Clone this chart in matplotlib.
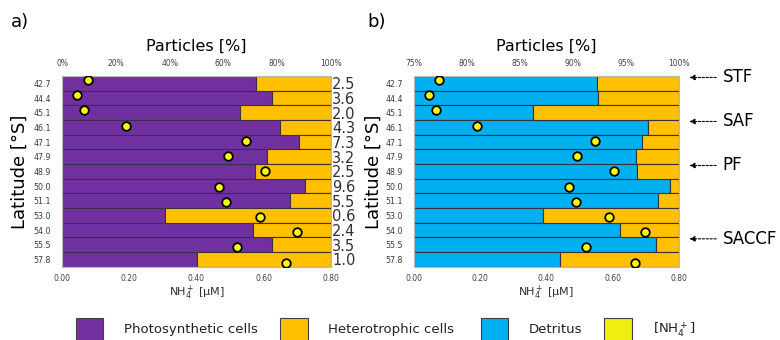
import matplotlib
matplotlib.use("Agg")
import matplotlib.pyplot as plt
from matplotlib.patches import Rectangle
import numpy as np

plt.rcParams['font.family'] = ['DejaVu Sans']

latitudes = ["42.7", "44.4", "45.1", "46.1", "47.1", "47.9", "48.9",
             "50.0", "51.1", "53.0", "54.0", "55.5", "57.8"]
photosynthetic_pct = [72.2, 78.2, 66.1, 81.2, 88.1, 76.3, 71.8, 90.5, 84.8, 38.1, 71.0, 78.0, 50.1]
detritus_pct = [92.25, 92.4, 86.2, 97.1, 96.5, 96.0, 96.1, 99.2, 98.0, 87.2, 94.5, 97.9, 88.8]
nh4_uM = [0.076, 0.044, 0.065, 0.190, 0.547, 0.494, 0.605, 0.467, 0.489, 0.589, 0.699, 0.521, 0.667]
right_labels = ["2.5", "3.6", "2.0", "4.3", "7.3", "3.2", "2.5", "9.6", "5.5", "0.6", "2.4", "3.5", "1.0"]
fronts = {"STF": "42.7", "SAF": "46.1", "PF": "48.9", "SACCF": "55.5"}

top_ticks_a = [0, 20, 40, 60, 80, 100]
top_ticks_b = [75, 80, 85, 90, 95, 100]
nh4_ticks = [0.0, 0.2, 0.4, 0.6, 0.8]

PURPLE = "#7030A0"
ORANGE = "#FFC000"
BLUE = "#00B0F0"
YELLOW = "#FFFF00"
EDGE = "#3a3040"

W, H = 780, 340
fig = plt.figure(figsize=(7.8, 3.4), dpi=100)

def rect(x0, x1, ytop, ybot):
    return [x0 / W, 1 - ybot / H, (x1 - x0) / W, (ybot - ytop) / H]

ya = np.arange(len(latitudes))

def make_panel(r, xlim, ticks, first_pct, first_color, tick_fmt, ylab_x):
    ax = fig.add_axes(r)
    lo = xlim[0]
    ax.barh(ya, [v - lo for v in first_pct], left=lo, height=1.0, color=first_color,
            edgecolor=EDGE, linewidth=0.8, zorder=2)
    ax.barh(ya, [100 - v for v in first_pct], left=first_pct, height=1.0, color=ORANGE,
            edgecolor=EDGE, linewidth=0.8, zorder=2)
    ax.set_xlim(*xlim)
    ax.set_ylim(len(latitudes) - 0.5, -0.5)
    ax.xaxis.tick_top()
    ax.set_xticks(ticks)
    ax.set_xticklabels([tick_fmt(t) for t in ticks], fontsize=5.5, color="#404040")
    ax.tick_params(axis='x', length=0, pad=6)
    ax.set_yticks(ya)
    ax.set_yticklabels(latitudes, fontsize=5.7, color="#383838")
    ax.tick_params(axis='y', length=0, pad=8)
    for s in ax.spines.values():
        s.set_color("#bbbbbb")
        s.set_linewidth(0.8)
    ax.set_xlabel("Particles [%]", fontsize=11.5, labelpad=6)
    ax.xaxis.set_label_position('top')
    ax.set_ylabel("Latitude [°S]", fontsize=13)
    ax.yaxis.set_label_coords(ylab_x, 0.5)

    # NH4 dots on overlaid axes
    ad = fig.add_axes(r, facecolor='none')
    ad.scatter(nh4_uM, ya, s=38, color=YELLOW, edgecolor="black", linewidth=1.3, zorder=5)
    ad.set_xlim(0, 0.8)
    n = len(latitudes) - 1
    span = n / 0.958
    off = 0.021 * span
    ad.set_ylim(n + off, -off)
    ad.set_xticks(nh4_ticks)
    ad.set_xticklabels([f"{t:.2f}" for t in nh4_ticks], fontsize=5.5, color="#404040")
    ad.tick_params(axis='x', length=0, pad=5.5)
    ad.set_yticks([])
    for s in ad.spines.values():
        s.set_visible(False)
    ad.set_xlabel("NH$_4^+$ [µM]", fontsize=8, color="#303030", labelpad=0.5)
    return ax

ra = rect(62.3, 330.7, 76, 266.7)
rb = rect(414, 678.7, 76, 266.7)
ax_a = make_panel(ra, (0, 100), top_ticks_a, photosynthetic_pct, PURPLE, lambda t: f"{t}%", -0.125)
ax_b = make_panel(rb, (75, 100), top_ticks_b, detritus_pct, BLUE, lambda t: f"{t}%", -0.118)

# right labels for panel a
axr = ax_a.twinx()
axr.set_ylim(ax_a.get_ylim())
axr.set_yticks(ya)
axr.set_yticklabels(right_labels, fontsize=10.5, color="#303030")
axr.tick_params(axis='y', length=0, pad=1)
for s in axr.spines.values():
    s.set_visible(False)

# front annotations for panel b
for name, lat in fronts.items():
    i = latitudes.index(lat)
    yv = ya[i] - 0.4
    ax_b.annotate("", xy=(1.03, yv), xycoords=('axes fraction', 'data'),
                  xytext=(1.152, yv), textcoords=('axes fraction', 'data'),
                  arrowprops=dict(arrowstyle='-|>', linestyle=(0, (2, 1.5)), color='black',
                                  lw=0.8, mutation_scale=8), annotation_clip=False)
    ax_b.text(1.166, yv, name, transform=ax_b.get_yaxis_transform(), fontsize=12,
              va='center', ha='left', clip_on=False)

fig.text(11 / W, 1 - 22 / H, "a)", fontsize=13, va='center', ha='left')
fig.text(367 / W, 1 - 22 / H, "b)", fontsize=13, va='center', ha='left')

# legend
leg_items = [(PURPLE, "Photosynthetic cells", 75.7, 124),
             (ORANGE, "Heterotrophic cells", 280, 328),
             (BLUE, "Detritus", 480.7, 528.3),
             ("#EEEE10", "[NH$_4^+$]", 604.3, 653.3)]
for col, lab, bx, tx in leg_items:
    fig.add_artist(Rectangle((bx / W, 1 - 345 / H), 27.5 / W, 27.3 / H, transform=fig.transFigure,
                             facecolor=col, edgecolor="#404040", linewidth=0.8))
    fig.text(tx / W, 1 - 329.5 / H, lab, fontsize=9.5, va='center', ha='left', color="#202020")

fig.savefig("out.png", dpi=100)
